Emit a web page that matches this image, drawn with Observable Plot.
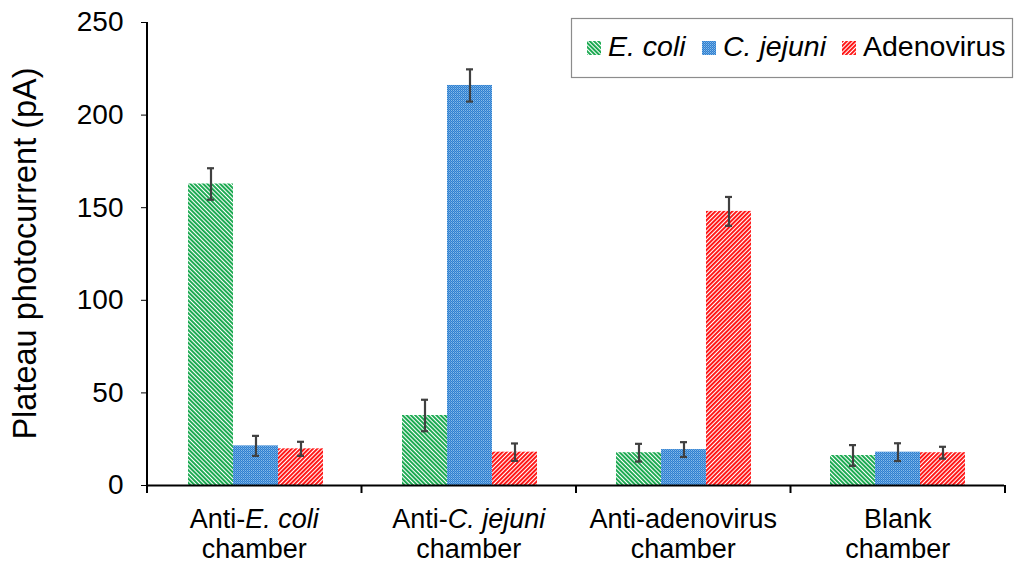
<!DOCTYPE html>
<html>
<head>
<meta charset="utf-8">
<script src="https://cdn.jsdelivr.net/npm/d3@7"></script>
<script src="https://cdn.jsdelivr.net/npm/@observablehq/plot@0.6"></script>
<style>
  html, body { margin: 0; padding: 0; background: #fff; }
  #chart { position: relative; width: 1024px; height: 576px; }
</style>
</head>
<body>
<div id="chart"></div>
<script>
// ---- data ----
const categories = ["Anti-E. coli chamber", "Anti-C. jejuni chamber", "Anti-adenovirus chamber", "Blank chamber"];
const series = ["E. coli", "C. jejuni", "Adenovirus"];
const ecoliValues = [162.8, 37.8, 17.7, 16.2];
const ecoliErrors = [8.5, 8.5, 4.8, 5.6];
const cjejuniValues = [21.4, 216, 19.4, 18.0];
const cjejuniErrors = [5.4, 8.7, 4.0, 4.8];
const adenoValues = [19.8, 18.0, 148, 17.7];
const adenoErrors = [3.8, 4.7, 7.8, 3.2];
const yTicks = [0, 50, 100, 150, 200, 250];
// category label lines: segment = [text, italic]
const categoryLabels = [
  [[["Anti-", false], ["E. coli", true]], [["chamber", false]]],
  [[["Anti-", false], ["C. jejuni", true]], [["chamber", false]]],
  [[["Anti-adenovirus", false]], [["chamber", false]]],
  [[["Blank", false]], [["chamber", false]]]
];
const legendItalic = [true, true, false];
const patternIds = ["pat-ecoli", "pat-cjejuni", "pat-adeno"];

const valuesBySeries = [ecoliValues, cjejuniValues, adenoValues];
const errorsBySeries = [ecoliErrors, cjejuniErrors, adenoErrors];
const rows = [];
categories.forEach((c, i) => {
  series.forEach((s, j) => {
    rows.push({category: c, series: s, value: valuesBySeries[j][i], err: errorsBySeries[j][i]});
  });
});

const font = "'Liberation Sans', Arial, sans-serif";

const plot = Plot.plot({
  width: 1024,
  height: 576,
  marginLeft: 147,
  marginRight: 19,
  marginTop: 22,
  marginBottom: 91,
  style: {fontFamily: font, fontSize: "28px", color: "#000", background: "#fff"},
  fx: {domain: categories, padding: 0, axis: null},
  x: {domain: series, paddingInner: 0, paddingOuter: 0.832, axis: null},
  y: {domain: [0, 250], ticks: yTicks, tickSize: 7, tickPadding: 18, label: null, tickFormat: d => String(d)},
  color: {domain: series, range: patternIds.map(id => `url(#${id})`)},
  marks: [
    Plot.barY(rows, {fx: "category", x: "series", y: "value", fill: "series"}),
    Plot.ruleX(rows, {fx: "category", x: "series", y1: d => d.value - d.err, y2: d => d.value + d.err, stroke: "#404040", strokeWidth: 2.2}),
    Plot.tickY(rows, {fx: "category", x: "series", y: d => d.value - d.err, stroke: "#404040", strokeWidth: 2.2, insetLeft: 19, insetRight: 19}),
    Plot.tickY(rows, {fx: "category", x: "series", y: d => d.value + d.err, stroke: "#404040", strokeWidth: 2.2, insetLeft: 19, insetRight: 19}),
    Plot.ruleY([0], {stroke: "#000", strokeWidth: 2})
  ]
});

document.getElementById("chart").appendChild(plot);

const svg = d3.select(plot);
// make y tick labels match reference size
svg.selectAll('[aria-label="y-axis tick label"]').style("font-size", "28px");
svg.selectAll('[aria-label="y-axis tick label"] text').style("font-size", "28px");

// patterns
const defs = svg.insert("defs", ":first-child");
function stripe(id, color, angle) {
  const p = defs.append("pattern").attr("id", id).attr("patternUnits", "userSpaceOnUse")
    .attr("width", 3).attr("height", 3).attr("patternTransform", `rotate(${angle})`);
  p.append("rect").attr("width", 3).attr("height", 3).attr("fill", "#ffffff");
  p.append("rect").attr("width", 1.9).attr("height", 3).attr("fill", color);
}
stripe("pat-ecoli", "#12a64a", -45);
stripe("pat-adeno", "#ff0d0d", 45);
{
  const p = defs.append("pattern").attr("id", "pat-cjejuni").attr("patternUnits", "userSpaceOnUse")
    .attr("width", 2).attr("height", 2);
  p.append("rect").attr("width", 2).attr("height", 2).attr("fill", "#2f7fcf");
  p.append("rect").attr("width", 1).attr("height", 1).attr("fill", "#86bbea");
  p.append("rect").attr("x", 1).attr("y", 1).attr("width", 1).attr("height", 1).attr("fill", "#5d9fe0");
}

const fx = plot.scale("fx");
const y = plot.scale("y");
const fxScale = d3.scaleBand().domain(fx.domain).range(fx.range).paddingInner(0).paddingOuter(0);
const yScale = d3.scaleLinear().domain(y.domain).range(y.range);
const x0 = fx.range[0], x1 = fx.range[1];
const yBase = yScale(0), yTop = yScale(250);

const overlay = svg.append("g").attr("fill", "#000").style("font-family", font);

// y axis line
overlay.append("line").attr("x1", x0).attr("x2", x0).attr("y1", yBase + 1).attr("y2", yTop)
  .attr("stroke", "#000").attr("stroke-width", 2);
// x axis boundary ticks
const bounds = categories.map(c => fxScale(c)).concat([x1]);
overlay.selectAll("line.xb").data(bounds).join("line")
  .attr("x1", d => d).attr("x2", d => d).attr("y1", yBase).attr("y2", yBase + 8)
  .attr("stroke", "#000").attr("stroke-width", 2);

// x category labels
categories.forEach((c, i) => {
  const cx = fxScale(c) + fxScale.bandwidth() / 2;
  categoryLabels[i].forEach((line, k) => {
    const t = overlay.append("text").attr("x", cx).attr("y", yBase + 43 + k * 30)
      .attr("text-anchor", "middle").style("font-size", "27px");
    line.forEach(([txt, it]) => {
      t.append("tspan").text(txt).style("font-style", it ? "italic" : "normal");
    });
  });
});

// y axis title
overlay.append("text")
  .attr("transform", `translate(36,${(yBase + yTop) / 2}) rotate(-90)`)
  .attr("text-anchor", "middle").style("font-size", "32.5px")
  .text("Plateau photocurrent (pA)");

// legend
const lg = svg.append("g").style("font-family", font).attr("text-anchor", "start");
lg.append("rect").attr("x", 571.5).attr("y", 18.5).attr("width", 441).attr("height", 59)
  .attr("fill", "#fff").attr("stroke", "#8c8c8c").attr("stroke-width", 1.2);
const swatchX = [587, 702, 842];
series.forEach((s, j) => {
  lg.append("rect").attr("x", swatchX[j]).attr("y", 41).attr("width", 14).attr("height", 14)
    .attr("fill", `url(#${patternIds[j]})`);
  lg.append("text").attr("x", swatchX[j] + 21).attr("y", 55.5).attr("text-anchor", "start")
    .style("font-size", "28.5px")
    .style("font-style", legendItalic[j] ? "italic" : "normal").text(s);
});
</script>
</body>
</html>
